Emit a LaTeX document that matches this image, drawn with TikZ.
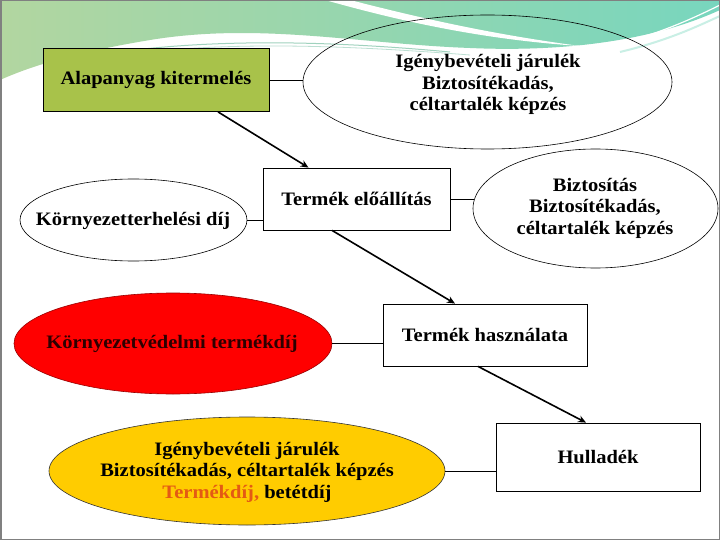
\documentclass[tikz,border=0pt]{standalone}
\usepackage{fontspec}
\setmainfont[FakeStretch=1.08]{Liberation Serif}
\usetikzlibrary{shapes.geometric,arrows.meta,calc}
\definecolor{boxgreen}{RGB}{168,194,74}
\definecolor{ovalred}{RGB}{255,0,0}
\definecolor{ovalyellow}{RGB}{255,204,0}
\definecolor{darkredtext}{RGB}{45,0,0}
\definecolor{orangetext}{RGB}{228,90,20}
\definecolor{bgleft}{RGB}{178,214,160}
\definecolor{bgright}{RGB}{120,214,190}
\definecolor{swoosh}{RGB}{160,210,190}
\begin{document}
\begin{tikzpicture}[x=1pt,y=-1pt,
  box/.style={draw=black, line width=0.8pt, rectangle, inner sep=0pt,
    font=\fontsize{19}{21.5}\selectfont\bfseries, align=center},
  oval/.style={draw=black, line width=0.6pt, ellipse, inner sep=0pt},
  txt/.style={font=\fontsize{19}{21.5}\selectfont\bfseries, align=center, inner sep=0pt},
  link/.style={line width=0.8pt},
  arr/.style={line width=1.6pt, -{Stealth[length=8pt,width=7pt]}}]
\useasboundingbox (0,0) rectangle (720,540);
% background
\fill[white] (0,0) rectangle (720,540);
\shade[left color=bgleft, right color=bgright]
  (0,0) -- (720,0) -- (720,10)
  .. controls (650,42) and (560,52) .. (470,48)
  .. controls (360,44) and (260,22) .. (150,40)
  .. controls (90,50) and (40,62) .. (0,80) -- cycle;
\fill[white] (325,0) -- (350,0) .. controls (420,18) and (490,34) .. (580,46)
  .. controls (490,40) and (410,24) .. (325,0) -- cycle;
\fill[white] (60,62) .. controls (150,40) and (250,28) .. (340,40)
  .. controls (250,35) and (150,45) .. (60,62) -- cycle;
\draw[swoosh, line width=1pt] (80,58) .. controls (180,40) and (300,38) .. (450,52);
\draw[swoosh!70, line width=0.8pt] (120,55) .. controls (220,42) and (330,44) .. (470,55);
\draw[white, line width=1.2pt] (600,48) .. controls (650,38) and (690,20) .. (720,5);
\draw[white!60!bgright, line width=2pt] (620,52) .. controls (670,40) and (700,25) .. (720,16);
\draw[gray, line width=1.5pt] (0.75,0.75) rectangle (719.25,539.25);
% nodes
\node[box, fill=boxgreen, minimum width=226pt, minimum height=63pt] (ala) at (156,80) {Alapanyag kitermelés};
\node[oval, minimum width=369pt, minimum height=134pt] (igt) at (487.5,82) {};
\node[txt] (igtt) at (488,84.5) {Igénybevételi járulék\\Biztosítékadás,\\céltartalék képzés};
\node[box, fill=white, minimum width=187pt, minimum height=62pt] (tel) at (356.5,199) {Termék előállítás};
\node[oval, minimum width=227pt, minimum height=82pt] (kt) at (133.5,220) {};
\node[txt] (ktt) at (133,221) {Környezetterhelési díj};
\node[oval, minimum width=245pt, minimum height=119pt] (biz) at (595.5,208.5) {};
\node[txt] (bizt) at (595,208) {Biztosítás\\Biztosítékadás,\\céltartalék képzés};
\node[oval, draw=red!60!black, fill=ovalred, minimum width=318pt, minimum height=101pt] (red) at (173,343.5) {};
\node[txt, text=darkredtext] (redt) at (172,344) {Környezetvédelmi termékdíj};
\node[box, fill=white, minimum width=204pt, minimum height=62pt] (th) at (485,335) {Termék használata};
\node[oval, draw=black!80, fill=ovalyellow, minimum width=396pt, minimum height=108pt] (yel) at (247,471) {};
\node[txt] (yelt) at (247,472) {Igénybevételi járulék\\Biztosítékadás, céltartalék képzés\\{\color{orangetext}Termékdíj,} betétdíj};
\node[box, fill=white, minimum width=204pt, minimum height=68pt] (hul) at (598,457) {Hulladék};
% connectors
\draw[link] (ala.east) -- (ala.east -| igt.west);
\draw[link] (kt.east) -- (kt.east -| tel.west);
\draw[link] (tel.east) -- ([xshift=1.5pt]tel.east -| biz.west);
\draw[link] (red.east) -- (red.east -| th.west);
\draw[link] (yel.east) -- (yel.east -| hul.west);
\draw[arr] ([xshift=62pt]ala.south) -- ([xshift=-48pt]tel.north);
\draw[arr] ([xshift=-24.5pt]tel.south) -- ([xshift=-30pt]th.north);
\draw[arr] ([xshift=-7pt]th.south) -- ([xshift=-12pt]hul.north);
\end{tikzpicture}
\end{document}
